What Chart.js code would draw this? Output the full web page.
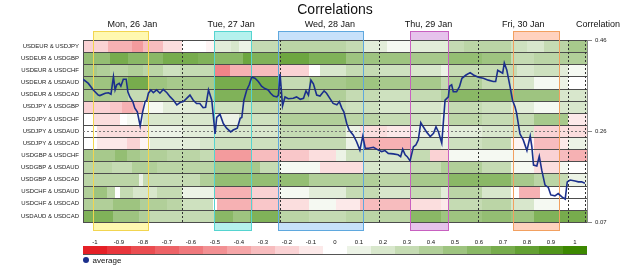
<!DOCTYPE html>
<html>
<head>
<meta charset="utf-8">
<script src="https://cdn.jsdelivr.net/npm/chart.js@4.4.1/dist/chart.umd.min.js"></script>
<style>
  html, body { margin: 0; padding: 0; background: #fff; }
</style>
</head>
<body>
<canvas id="corrChart" width="625" height="267"></canvas>
<script>
// currency pairs, top to bottom
const pairLabels = [
  'USDEUR & USDJPY', 'USDEUR & USDGBP', 'USDEUR & USDCHF', 'USDEUR & USDAUD', 'USDEUR & USDCAD',
  'USDJPY & USDGBP', 'USDJPY & USDCHF', 'USDJPY & USDAUD', 'USDJPY & USDCAD',
  'USDGBP & USDCHF', 'USDGBP & USDAUD', 'USDGBP & USDCAD',
  'USDCHF & USDAUD', 'USDCHF & USDCAD', 'USDAUD & USDCAD'
];

// heatmap rows: [start hour, correlation] – each run lasts until the next start
const eurJpy = [[0,-0.2],[6,-0.35],[12,-0.45],[14.5,-0.3],[19.5,-0.15],[24,0],[30,-0.05],[32,0.15],[36,0.2],[38,0.1],[41,0.3],[48,0.35],[64,0.3],[68,0.15],[74,0.05],[79.5,0.15],[89,0.3],[92.5,0.35],[104,0.25],[108,0.2],[112,0.3],[116,0.35],[118,0.45]];
const eurGbp = [[0,0.55],[6.5,0.7],[11,0.6],[19.5,0.7],[28,0.65],[32,0.6],[39,0.75],[41,0.65],[48,0.75],[55,0.65],[64,0.5],[79.5,0.45],[89,0.55],[97,0.5],[104,0.3],[109.5,0.35],[116,0.4]];
const eurChf = [[0,0.45],[3.3,0.4],[6.6,0.35],[11,0.4],[14.7,0.35],[19.5,0.25],[23.5,0.3],[32,-0.55],[35.7,-0.35],[41,-0.3],[48,-0.2],[55,0],[57.6,0.2],[64,0.3],[72,0.25],[79.5,0.2],[87,0.1],[89,0.3],[105.4,0.2],[109.5,0.25],[116,0.15],[118,0.05]];
const eurAud = [[0,0.5],[6.6,0.55],[11,0.7],[15.9,0.5],[20.3,0.45],[32,0.7],[48,0.3],[55,0.45],[64,0.5],[72,0.45],[87,0.3],[89,0.4],[97,0.3],[104,0.2],[109.5,0.05],[116,0.1],[118,0]];
const eurCad = [[0,0.45],[6.6,0.4],[11,0.3],[15.9,0.35],[32,0.65],[48,0.45],[55,0.4],[64,0.3],[72,0.25],[79.5,0.3],[87,0.4],[89,0.6],[104,0.5],[116,0.2]];
const jpyGbp = [[0,-0.2],[6.6,-0.25],[9.4,-0.35],[12.2,-0.3],[14.7,0.05],[19.5,0.15],[28.4,0.2],[32,0.25],[41,0.3],[64,0.25],[72,0.2],[87,0.15],[89,0.3],[97,0.25],[104,0.15],[109.5,0.05],[116,0.2]];
const jpyChf = [[0,0],[2.5,-0.15],[9,0],[10.6,0.05],[14.7,0.2],[32,0.1],[38,0.25],[48,0.4],[64,0.35],[72,0.3],[79.5,0.25],[87,0.1],[89,0.35],[97,0.3],[109.5,0.45],[118,-0.1]];
const jpyAud = [[0,0],[3.3,-0.15],[15.5,0.1],[24,0.15],[32,0.2],[48,0.3],[64,0.1],[67.3,-0.15],[74,-0.1],[79.5,0.1],[87,0.05],[89,0.15],[97,0.2],[109.5,-0.2],[116,-0.15]];
const jpyCad = [[0,0],[3.3,-0.1],[10.6,-0.2],[13.9,-0.05],[16.3,0.15],[28.4,0.2],[32,0.25],[48,0.3],[64,0.1],[68,-0.35],[79.5,0.2],[87,0.1],[89,0.25],[97,0.3],[104,-0.05],[109.5,-0.3],[116,-0.1],[118,0.1]];
const gbpChf = [[0,0.45],[7.8,0.55],[10.6,0.45],[13.9,0.4],[20.3,0.35],[28.4,0.3],[32,-0.45],[41,-0.3],[48,-0.25],[55,-0.15],[61.6,0.1],[64,0.25],[72,0.2],[79.5,0.3],[84.3,-0.2],[89,0.05],[109.5,-0.2],[116,-0.3],[118,-0.35]];
const gbpAud = [[0,0.35],[7,0.3],[12,0.4],[18,0.35],[32,0.45],[43,0.3],[48,0.05],[57.6,-0.15],[68,0.2],[79.5,0.3],[87,0.4],[97,0.3],[104,0.05],[109.5,-0.15],[116,0.05],[118,0]];
const gbpCad = [[0,0.35],[13.5,0.1],[14.7,0.3],[28.4,0.4],[32,0.55],[55,0.4],[72,0.35],[79.5,0.45],[89,0.6],[104,0.45],[109.5,0.35],[116,0.3],[118,0.1]];
const chfAud = [[0,0.4],[2.5,0.5],[5.8,0.35],[7.8,0],[9,0.3],[12.2,0.2],[17.9,0.3],[24,0.1],[32,-0.35],[41,-0.2],[48,0.05],[55,0.15],[64,0.3],[72,0.2],[79.5,0.3],[87,0.15],[89,0.35],[97,0.2],[104,0],[106,-0.35],[111,0]];
const chfCad = [[0,0.4],[7.4,0.5],[13.9,0.4],[20.3,0.35],[24,0.25],[31.7,0],[32.5,-0.35],[41.4,-0.25],[48,-0.15],[55,0.05],[61.6,-0.1],[67.3,-0.3],[79.5,-0.15],[87,-0.1],[89,0.3],[97,0.35],[104,0.2],[109.5,0.05],[116,0]];
const audCad = [[0,0.65],[7.4,0.5],[13.5,0.4],[16.3,0.3],[32,0.6],[36.5,0.5],[40.6,0.65],[48,0.35],[55,0.3],[64,0.35],[79.5,0.6],[87,0.5],[97,0.55],[104,0.5],[109.5,0.65],[116,0.7]];
const heatRows = [eurJpy, eurGbp, eurChf, eurAud, eurCad, jpyGbp, jpyChf, jpyAud, jpyCad, gbpChf, gbpAud, gbpCad, chfAud, chfCad, audCad];

// average correlation (right axis), hour -> value
const avgHours = [
  0,1.3,2.5,3.7,4.1,5.4,6.2,6.8,7.4,7.8,8.2,8.8,9.2,9.8,10.5,10.9,11.4,12.1,12.6,13.2,13.9,14.5,15.1,15.5,15.9,16.5,17.1,17.9,18.7,19.5,20.4,21.2,22,22.8,23.6,
  24.4,25.2,26,26.8,27.6,28.4,29.2,29.8,30.5,31.3,32.1,32.5,33.3,34.1,34.9,35.9,36.5,37.5,38.2,38.6,39.1,39.8,40.4,41,41.8,42.6,43.4,44.2,45,45.6,46.3,47.1,47.5,47.9,
  48.5,49.1,49.9,51.1,51.9,52.8,53.6,54.2,54.8,55.4,56,56.8,57.6,58.6,59.2,60,60.8,61.7,62.3,62.9,63.4,64.1,64.7,65.7,66.5,67.3,68,68.6,69.4,70.6,71.8,
  72.6,73.4,74.2,75.4,76.6,77.2,77.7,78.3,78.8,79.5,80.3,80.9,81.5,82.1,82.7,83.5,84.4,85.2,85.8,86.4,87.2,88,88.8,89.1,89.6,90,90.8,91.5,92.1,93.1,94.1,94.9,
  96.1,97.3,98.5,99.7,100.3,100.8,101.4,102,102.4,103,103.8,104.4,105,105.4,105.8,106.2,107,107.9,108.7,109.1,109.5,110.3,110.9,111.5,112.3,113.1,113.7,114.7,115.5,116.4,117.2,117.7,
  118.4,119.6,120.4,121.2,122
];
const avgValues = [
  0.376,0.367,0.353,0.342,0.341,0.346,0.347,0.344,0.381,0.353,0.364,0.367,0.361,0.376,0.376,0.349,0.338,0.328,0.314,0.306,0.276,0.306,0.328,0.331,0.346,0.353,0.347,0.353,0.346,0.354,0.347,0.338,0.331,0.321,0.326,
  0.328,0.335,0.342,0.331,0.324,0.324,0.315,0.316,0.353,0.331,0.259,0.294,0.301,0.281,0.271,0.263,0.267,0.271,0.292,0.294,0.331,0.353,0.364,0.380,0.378,0.371,0.361,0.356,0.353,0.346,0.340,0.338,0.342,0.387,
  0.319,0.338,0.334,0.335,0.338,0.333,0.335,0.351,0.342,0.374,0.366,0.342,0.340,0.351,0.346,0.335,0.324,0.321,0.328,0.314,0.306,0.281,0.267,0.256,0.242,0.224,0.254,0.228,0.228,0.230,0.224,
  0.221,0.223,0.217,0.216,0.214,0.210,0.226,0.214,0.210,0.201,0.231,0.235,0.246,0.283,0.274,0.263,0.253,0.260,0.274,0.263,0.239,0.331,0.338,0.361,0.364,0.349,0.349,0.360,0.378,0.385,0.390,0.385,
  0.380,0.378,0.374,0.371,0.371,0.395,0.392,0.389,0.411,0.396,0.360,0.331,0.317,0.303,0.281,0.259,0.246,0.223,0.254,0.231,0.192,0.190,0.211,0.181,0.149,0.144,0.128,0.126,0.131,0.124,0.119,0.156,
  0.160,0.158,0.156,0.156,0.153
];

// days and trading sessions, in hours
const dayLabels = ['Mon, 26 Jan', 'Tue, 27 Jan', 'Wed, 28 Jan', 'Thu, 29 Jan', 'Fri, 30 Jan'];
const dayStart = [0, 24, 48, 72, 96];
const dayEnd = [24, 48, 72, 96, 118];
const dayBreaks = [24, 48, 72, 96, 118, 122];
const sessionStart = [2.5, 31.9, 47.5, 79.5, 104.4];
const sessionEnd = [16.1, 41, 68.4, 89, 116];
const hourMax = 122.5;

// axis ticks
const avgTicks = [0.07, 0.265, 0.46];
const avgTickLabels = ['0.07', '0.26', '0.46'];
const colorbarTicks = ['-1','-0.9','-0.8','-0.7','-0.6','-0.5','-0.4','-0.3','-0.2','-0.1','0','0.1','0.2','0.3','0.4','0.5','0.6','0.7','0.8','0.9','1'];

const sessionFill = ['rgba(255,246,150,0.75)', 'rgba(150,235,230,0.7)', 'rgba(180,215,248,0.75)', 'rgba(222,175,230,0.75)', 'rgba(255,195,170,0.75)'];
const sessionLine = ['#f2d550', '#55d4d0', '#5fa8de', '#c860c0', '#f2a060'];
const lineColor = '#1b2f8c';
const FONT = '"Liberation Sans", Arial, sans-serif';

function corrColor(v) {
  const c = v < 0 ? [229, 32, 38] : [60, 136, 0];
  const t = Math.min(1, Math.abs(v));
  return 'rgb(' + c.map(k => Math.round(255 + (k - 255) * t)).join(',') + ')';
}

const heatmapPlugin = {
  id: 'heatmap',
  beforeDatasetsDraw(chart) {
    const { ctx, chartArea: a, scales } = chart;
    const x = scales.x, y = scales.yRows;
    const rowH = (a.bottom - a.top) / pairLabels.length;
    ctx.save();

    // session boxes, visible above and below the grid
    sessionStart.forEach((s, i) => {
      const x0 = Math.round(x.getPixelForValue(s)), x1 = Math.round(x.getPixelForValue(sessionEnd[i]));
      ctx.fillStyle = sessionFill[i];
      ctx.fillRect(x0, a.top - 8, x1 - x0, 8);
      ctx.fillRect(x0, a.bottom, x1 - x0, 9);
    });

    // cells
    heatRows.forEach((row, r) => {
      const yc = y.getPixelForValue(r);
      const y0 = Math.round(yc - rowH / 2), y1 = Math.round(yc + rowH / 2);
      row.forEach((seg, k) => {
        const end = k + 1 < row.length ? row[k + 1][0] : hourMax;
        const x0 = Math.round(x.getPixelForValue(seg[0])), x1 = Math.round(x.getPixelForValue(end));
        ctx.fillStyle = corrColor(seg[1]);
        ctx.fillRect(x0, y0, x1 - x0, y1 - y0);
      });
    });

    // row separators + frame
    ctx.strokeStyle = '#4d4d4d';
    ctx.lineWidth = 1;
    ctx.beginPath();
    for (let r = 0; r <= pairLabels.length; r++) {
      const yy = Math.round(a.top + r * rowH) + 0.5;
      ctx.moveTo(a.left, yy);
      ctx.lineTo(a.right, yy);
    }
    ctx.moveTo(a.left + 0.5, a.top);
    ctx.lineTo(a.left + 0.5, a.bottom);
    ctx.stroke();

    // dotted middle line of the right axis
    const ym = Math.round(scales.yAvg.getPixelForValue(avgTicks[1])) + 0.5;
    ctx.setLineDash([2, 2]);
    ctx.strokeStyle = '#777';
    ctx.beginPath();
    ctx.moveTo(a.left, ym);
    ctx.lineTo(a.right, ym);
    ctx.stroke();

    // day breaks
    ctx.strokeStyle = '#333';
    ctx.beginPath();
    dayBreaks.forEach(h => {
      const xx = Math.round(x.getPixelForValue(h)) + 0.5;
      ctx.moveTo(xx, a.top);
      ctx.lineTo(xx, a.bottom);
    });
    ctx.stroke();
    ctx.setLineDash([]);

    // session outlines
    sessionStart.forEach((s, i) => {
      const x0 = Math.round(x.getPixelForValue(s)) + 0.5, x1 = Math.round(x.getPixelForValue(sessionEnd[i])) - 0.5;
      ctx.strokeStyle = sessionLine[i];
      ctx.strokeRect(x0, a.top - 8.5, x1 - x0, a.bottom - a.top + 17);
    });
    ctx.restore();
  },
  afterDraw(chart) {
    const { ctx, chartArea: a, scales } = chart;
    const x = scales.x;
    ctx.save();
    ctx.fillStyle = '#111';
    ctx.textBaseline = 'alphabetic';

    ctx.font = '14px ' + FONT;
    ctx.textAlign = 'center';
    ctx.fillText('Correlations', (a.left + a.right) / 2, 14);

    ctx.font = '9px ' + FONT;
    dayLabels.forEach((t, i) => {
      ctx.fillText(t, x.getPixelForValue((dayStart[i] + dayEnd[i]) / 2), 27);
    });
    ctx.fillText('Correlation', a.right + 11, 27);

    // colour scale
    const n = colorbarTicks.length;
    const w = (a.right - a.left) / n;
    ctx.font = '6px ' + FONT;
    colorbarTicks.forEach((t, i) => {
      const x0 = Math.round(a.left + i * w), x1 = Math.round(a.left + (i + 1) * w);
      ctx.fillStyle = corrColor(parseFloat(t));
      ctx.fillRect(x0, 246, x1 - x0, 8);
      ctx.fillStyle = '#111';
      ctx.fillText(t, a.left + (i + 0.5) * w, 244);
    });
    ctx.strokeStyle = '#555';
    ctx.beginPath();
    ctx.moveTo(a.left, 254.5);
    ctx.lineTo(a.right, 254.5);
    ctx.stroke();

    // legend
    ctx.fillStyle = lineColor;
    ctx.beginPath();
    ctx.arc(a.left + 3, 260, 3, 0, Math.PI * 2);
    ctx.fill();
    ctx.fillStyle = '#111';
    ctx.font = '8px ' + FONT;
    ctx.textAlign = 'left';
    ctx.fillText('average', a.left + 9.5, 263);
    ctx.restore();
  }
};

Chart.defaults.font.family = FONT;

new Chart(document.getElementById('corrChart'), {
  type: 'line',
  data: {
    datasets: [{
      label: 'average',
      data: avgHours.map((h, i) => ({ x: h, y: avgValues[i] })),
      xAxisID: 'x',
      yAxisID: 'yAvg',
      borderColor: lineColor,
      backgroundColor: lineColor,
      borderWidth: 1.6,
      pointRadius: 0,
      tension: 0
    }]
  },
  options: {
    responsive: false,
    animation: false,
    layout: { padding: { top: 40, bottom: 45, left: 0, right: 0 } },
    plugins: { legend: { display: false }, title: { display: false }, tooltip: { enabled: false } },
    scales: {
      x: { type: 'linear', min: 0, max: hourMax, display: false },
      yRows: {
        type: 'category',
        position: 'left',
        labels: pairLabels,
        offset: true,
        grid: { display: false, drawTicks: false },
        border: { display: false },
        ticks: { autoSkip: false, padding: 4, color: '#222', font: { size: 6 } },
        afterFit(scale) { scale.width = 83; }
      },
      yAvg: {
        type: 'linear',
        position: 'right',
        min: avgTicks[0],
        max: avgTicks[2],
        afterBuildTicks(scale) { scale.ticks = avgTicks.map(v => ({ value: v })); },
        grid: { drawOnChartArea: false, drawTicks: true, tickLength: 5, color: '#888' },
        border: { display: true, color: '#888' },
        ticks: { padding: 3, color: '#222', font: { size: 6 }, callback: (v, i) => avgTickLabels[i] },
        afterFit(scale) { scale.width = 38; }
      }
    }
  },
  plugins: [heatmapPlugin]
});
</script>
</body>
</html>
